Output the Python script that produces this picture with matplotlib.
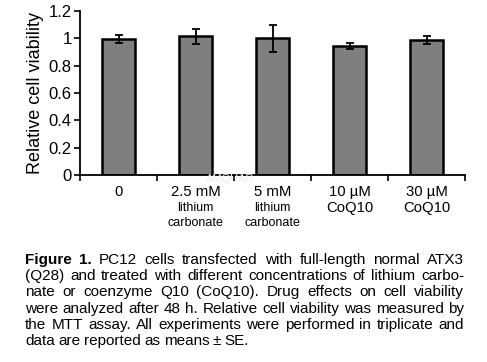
import matplotlib
matplotlib.use("Agg")
import matplotlib.pyplot as plt
import numpy as np

plt.rcParams["font.family"] = ["Liberation Sans", "DejaVu Sans"]

# data
top_labels = ["0", "2.5 mM", "5 mM", "10 \u00b5M", "30 \u00b5M"]
sub_labels = ["", "lithium\ncarbonate", "lithium\ncarbonate", "CoQ10", "CoQ10"]
viability = [0.995, 1.015, 1.00, 0.945, 0.985]
errors = [0.03, 0.055, 0.10, 0.02, 0.03]
yticks = [0, 0.2, 0.4, 0.6, 0.8, 1.0, 1.2]
ytick_labels = ["0", "0.2", "0.4", "0.6", "0.8", "1", "1.2"]

caption = [
    "Figure 1. PC12 cells transfected with full-length normal ATX3",
    "(Q28) and treated with different concentrations of lithium carbo-",
    "nate or coenzyme Q10 (CoQ10). Drug effects on cell viability",
    "were analyzed after 48 h. Relative cell viability was measured by",
    "the MTT assay. All experiments were performed in triplicate and",
    "data are reported as means \u00b1 SE.",
]

W, H = 487, 362
fig = plt.figure(figsize=(W / 100, H / 100), dpi=100)
ax = fig.add_axes([80 / W, 1 - 175 / H, 385 / W, 164 / H])

x = np.arange(len(viability))
ax.bar(x, viability, width=0.42, color="#7f7f7f", edgecolor="black",
       linewidth=1.8, zorder=2)
ax.errorbar(x, viability, yerr=errors, fmt="none", ecolor="black",
            elinewidth=1.3, capsize=3, capthick=1.3, zorder=3)

ax.set_xlim(-0.5, len(viability) - 0.5)
ax.set_ylim(0, 1.2)
ax.set_yticks(yticks)
ax.set_yticklabels(ytick_labels, fontsize=12)
ax.set_xticks(np.arange(len(viability) + 1) - 0.5)
ax.set_xticklabels([])
ax.tick_params(axis="x", direction="out", length=4, width=1.2)
ax.tick_params(axis="y", direction="out", length=4, width=1.2, pad=2)
ax.spines["top"].set_visible(False)
ax.spines["right"].set_visible(False)
ax.spines["left"].set_linewidth(1.3)
ax.spines["bottom"].set_linewidth(1.3)
ax.set_ylabel("Relative cell viability", fontsize=13, labelpad=3)

# category labels: lithium lines are smaller than the CoQ10 ones
trans = ax.get_xaxis_transform()
for i in range(len(viability)):
    ax.text(x[i], -0.062, top_labels[i], transform=trans, ha="center",
            va="top", fontsize=10.7)
    if "\n" in sub_labels[i]:
        ax.text(x[i], -0.165, sub_labels[i], transform=trans, ha="center",
                va="top", fontsize=9, linespacing=1.3)
    elif sub_labels[i]:
        ax.text(x[i], -0.16, sub_labels[i], transform=trans, ha="center",
                va="top", fontsize=10.7)

fig.text(230 / W, 1 - 179 / H, "AMQUAR", fontsize=8, color="#ececec",
         ha="center", va="center")

# justified caption
renderer = fig.canvas.get_renderer()
left, right = 25, 464
y0 = 260
for li, line in enumerate(caption):
    words = line.split(" ")
    items = []
    for wi, w in enumerate(words):
        bold = li == 0 and wi < 2
        t = fig.text(0, 1 - (y0 + li * 16.2) / H, w, fontsize=11,
                     fontweight="bold" if bold else "normal", va="center")
        items.append(t)
    widths = [t.get_window_extent(renderer).width for t in items]
    if li < len(caption) - 1:
        gap = (right - left - sum(widths)) / (len(words) - 1)
    else:
        gap = 3.5
    pos = left
    for t, wd in zip(items, widths):
        t.set_x(pos / W)
        pos += wd + gap

fig.savefig("out.png", dpi=100)
